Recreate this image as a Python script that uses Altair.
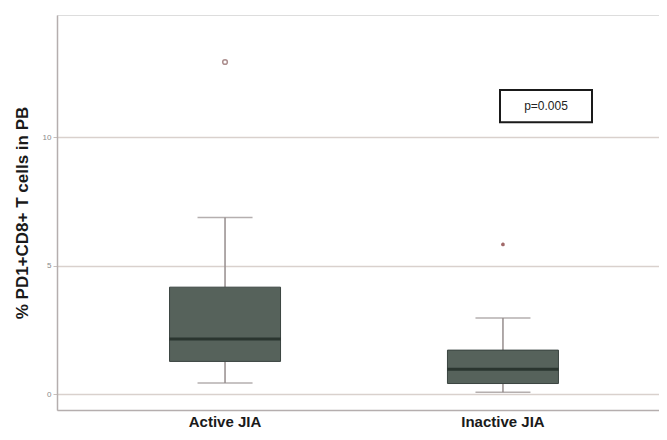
import altair as alt
import pandas as pd

groups = ["Active JIA", "Inactive JIA"]
lower_whisker = [0.43, 0.07]
q1 = [1.27, 0.41]
median = [2.14, 0.97]
q3 = [4.16, 1.71]
upper_whisker = [6.87, 2.96]

outlier_group = ["Active JIA", "Inactive JIA"]
outlier_value = [12.92, 5.82]
outlier_kind = ["circle", "asterisk"]

p_text = "p=0.005"

box = pd.DataFrame({"group": groups, "lo": lower_whisker, "q1": q1,
                    "med": median, "q3": q3, "hi": upper_whisker})
outl = pd.DataFrame({"group": outlier_group, "v": outlier_value, "kind": outlier_kind})

W, H = 602, 395
font = "Liberation Sans"

xscale = alt.Scale(paddingInner=0, paddingOuter=0.083, align=0.63)
yscale = alt.Scale(domain=[-0.62, 14.75], nice=False, zero=False)

xenc = alt.X("group:N", scale=xscale, sort=groups,
             axis=alt.Axis(title=None, labelAngle=0, labelFont=font, labelFontSize=15,
                           labelFontWeight="bold", labelColor="#1a1a1a", ticks=False,
                           labelPadding=4, domainColor="#b5aeae", domainWidth=1.5))

yaxis = alt.Axis(title="% PD1+CD8+ T cells in PB", values=[0, 5, 10], format="d",
                 titleFont=font, titleFontSize=17, titleFontWeight="bold", titleColor="#1a1a1a",
                 titlePadding=11, labelFont=font, labelFontSize=8, labelColor="#8a8a8a",
                 tickSize=4, tickColor="#c8c0bc", labelPadding=2,
                 domainColor="#b5aeae", domainWidth=1.5,
                 grid=True, gridColor="#d9d1cd", gridWidth=1.5)

base = alt.Chart(box)

grid_layer = base.mark_rule(opacity=0).encode(x=xenc, y=alt.Y("med:Q", scale=yscale, axis=yaxis))

whisk_up = base.mark_rule(color="#968d8d", strokeWidth=1.5).encode(
    x=alt.X("group:N", sort=groups), y="q3:Q", y2="hi:Q")
whisk_dn = base.mark_rule(color="#968d8d", strokeWidth=1.5).encode(
    x=alt.X("group:N", sort=groups), y="lo:Q", y2="q1:Q")
cap_hi = base.mark_tick(color="#968d8d", size=55, thickness=1.5).encode(
    x=alt.X("group:N", sort=groups), y="hi:Q")
cap_lo = base.mark_tick(color="#968d8d", size=55, thickness=1.5).encode(
    x=alt.X("group:N", sort=groups), y="lo:Q")
boxes = base.mark_bar(size=111, color="#56625b", stroke="#3a4440", strokeWidth=1).encode(
    x=alt.X("group:N", sort=groups), y="q1:Q", y2="q3:Q")
med = base.mark_tick(color="#18221c", size=111, thickness=3).encode(
    x=alt.X("group:N", sort=groups), y="med:Q")

circ = alt.Chart(outl).transform_filter(alt.datum.kind == "circle").mark_point(
    shape="circle", size=22, color="#8a6060", strokeWidth=1.5, filled=False).encode(
    x=alt.X("group:N", sort=groups), y="v:Q")
star = alt.Chart(outl).transform_filter(alt.datum.kind == "asterisk").mark_point(
    shape="M0,-1L0,1M-0.87,-0.5L0.87,0.5M-0.87,0.5L0.87,-0.5", size=14,
    color="#7a2a2a", strokeWidth=1.5, filled=False).encode(
    x=alt.X("group:N", sort=groups), y="v:Q")

ann = pd.DataFrame({"t": [p_text], "y1": [10.58], "y2": [11.83], "ym": [11.2]})
ann_box = alt.Chart(ann).mark_rect(fill="white", stroke="#1a1a1a", strokeWidth=2).encode(
    x=alt.value(443), x2=alt.value(535), y="y1:Q", y2="y2:Q")
ann_txt = alt.Chart(ann).mark_text(font=font, fontSize=12, color="#222").encode(
    x=alt.value(489), y="ym:Q", text="t:N")

chart = alt.layer(grid_layer, whisk_up, whisk_dn, cap_hi, cap_lo, boxes, med, circ, star,
                  ann_box, ann_txt).properties(
    width=W, height=H,
    autosize=alt.AutoSizeParams(type="none"),
    padding={"left": 49, "top": 7, "right": 0, "bottom": 22},
).configure_view(stroke=None).configure(background="white")

chart.save("out.html", embed_options={"renderer": "svg", "actions": False})
